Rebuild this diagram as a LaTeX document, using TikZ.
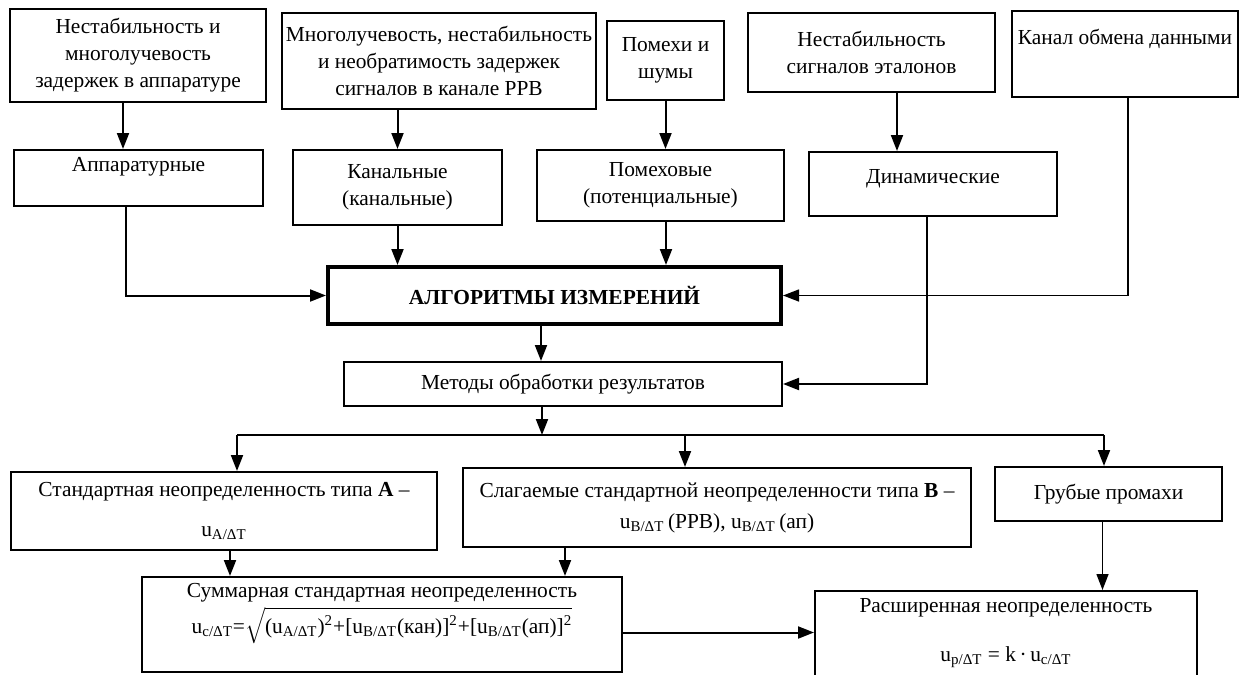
\documentclass[tikz,border=0pt]{standalone}
\usepackage{fontspec}
\setmainfont{Liberation Serif}
\usetikzlibrary{arrows.meta,positioning,calc}

\begin{document}
\begin{tikzpicture}[
  x=0.5pt, y=-0.5pt,
  font=\fontsize{10.7}{13.5}\selectfont,
  box/.style={draw, line width=1pt, align=center, inner sep=1pt},
  arr/.style={-{Triangle[length=8pt,width=6pt]}, line width=1pt},
  arrthin/.style={arr, line width=0.7pt}
]
\useasboundingbox (0,0) rectangle (1239,675);
\clip (0,0) rectangle (1239,675);

\node[box, minimum width=128pt, minimum height=46.5pt] (src1) at (138,55.5)
  {Нестабильность и\\многолучевость\\задержек в аппаратуре};
\node[box, minimum width=157pt, minimum height=48pt] (src2) at (439,61)
  {Многолучевость, нестабильность\\и необратимость задержек\\сигналов в канале РРВ};
\node[box, minimum width=58.5pt, minimum height=39.5pt] (src3) at (665.5,60.5)
  {Помехи и\\шумы};
\node[box, minimum width=123.5pt, minimum height=39.5pt] (src4) at (871.5,52.5)
  {Нестабильность\\сигналов эталонов};
\node[box, minimum width=113pt, minimum height=43pt] (src5) at (1125,54)
  {Канал обмена данными\\[3.5pt]\mbox{}};

\node[box, minimum width=124.5pt, minimum height=28pt] (app) at (138.5,178)
  {Аппаратурные\\\mbox{}};
\node[box, minimum width=104.5pt, minimum height=37.5pt] (kan) at (397.5,187.5)
  {Канальные\\(канальные)};
\node[box, minimum width=123.5pt, minimum height=35.5pt] (pom) at (660.5,185.5)
  {Помеховые\\(потенциальные)};
\node[box, minimum width=124pt, minimum height=32pt] (din) at (933,184)
  {Динамические\\[-6pt]\mbox{}};

\node[box, line width=2pt, minimum width=226.5pt, minimum height=28.5pt] (alg) at (554.5,295.5)
  {\bfseries АЛГОРИТМЫ ИЗМЕРЕНИЙ};
\node[box, minimum width=219pt, minimum height=22pt] (met) at (563,384)
  {Методы обработки результатов};

\node[box, minimum width=213pt, minimum height=39pt] (stA) at (224,511)
  {Стандартная неопределенность типа \textbf{A} –\\[6.5pt]u\textsubscript{A/ΔT}};
\node[box, minimum width=254pt, minimum height=39.5pt] (slB) at (717,507.5)
  {Слагаемые стандартной неопределенности типа \textbf{B} –\\[2pt]u\textsubscript{B/ΔT}\,(РРВ), u\textsubscript{B/ΔT}\,(ап)};
\node[box, minimum width=113.5pt, minimum height=27pt] (gru) at (1108.5,494)
  {Грубые промахи};
\node[box, minimum width=240pt, minimum height=47.5pt] (sum) at (382,624.5)
  {Суммарная стандартная неопределенность\\[1.5pt]u\textsubscript{c/ΔT}=$\sqrt{\mbox{(u\textsubscript{A/ΔT})\textsuperscript{2}+[u\textsubscript{B/ΔT}(кан)]\textsuperscript{2}+[u\textsubscript{B/ΔT}(ап)]\textsuperscript{2}}}$\\[3pt]\mbox{}};
\node[box, minimum width=191pt, minimum height=55pt] (ext) at (1006,646)
  {Расширенная неопределенность\\[11pt]u\textsubscript{p/ΔT} = k\,·\,u\textsubscript{c/ΔT}\\[3pt]\mbox{}};

\draw[arr] ([xshift=-7.5pt]src1.south) -- ([xshift=-7.5pt]src1.south |- app.north);
\draw[arr] (src2.south -| kan.north) -- (kan.north);
\draw[arr] (src3.south) -- (src3.south |- pom.north);
\draw[arr] ([xshift=12.75pt]src4.south) -- ([xshift=12.75pt]src4.south |- din.north);

\draw[arr] ([xshift=-6.25pt]app.south) |- (alg.west);
\draw[arr] (kan.south) -- (kan.south |- alg.north);
\draw[arr] ([xshift=2.75pt]pom.south) -- ([xshift=2.75pt]pom.south |- alg.north);
\draw[arrthin] ([xshift=1.5pt]src5.south) |- (alg.east);
\draw[arr] ([xshift=-3pt]din.south) |- (met.east);
\draw[arr] ([xshift=-6.75pt]alg.south) -- ([xshift=-6.75pt]alg.south |- met.north);

\coordinate (split) at (542,435);
\coordinate (brA) at (237,435);
\coordinate (brB) at (685,435);
\coordinate (brC) at (1104,435);
\draw[arr] (met.south -| split) -- (split);
\draw[line width=1pt] (brA) -- (brC);
\draw[arr] (brA) -- (brA |- stA.north);
\draw[arr] (brB) -- (brB |- slB.north);
\draw[arr] (brC) -- (brC |- gru.north);

\draw[arr] ([xshift=3pt]stA.south) -- ([xshift=3pt]stA.south |- sum.north);
\draw[arr] ([xshift=-76pt]slB.south) -- ([xshift=-76pt]slB.south |- sum.north);
\draw[arrthin] ([xshift=-3pt]gru.south) -- ([xshift=-3pt]gru.south |- ext.north);
\draw[arr] ([yshift=-4pt]sum.east) -- ([yshift=-4pt]sum.east -| ext.west);
\end{tikzpicture}
\end{document}
